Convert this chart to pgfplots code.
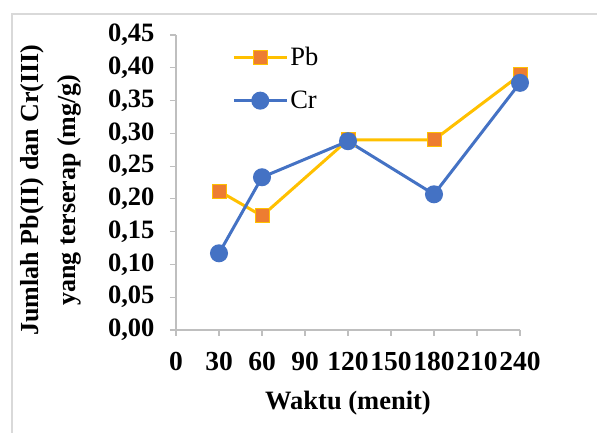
\documentclass[border=0pt]{standalone}
\usepackage{pgfplots}
\pgfplotsset{compat=1.18}
\usepackage{fontspec}
\setmainfont{Liberation Serif}
\definecolor{pbline}{HTML}{FFC000}
\definecolor{pbfill}{HTML}{ED7D31}
\definecolor{crline}{HTML}{4472C4}
\definecolor{axgray}{HTML}{BFBFBF}
\definecolor{bordergray}{HTML}{D9D9D9}
\begin{document}
\begin{tikzpicture}[x=1pt,y=1pt]
\path[use as bounding box] (0,0) rectangle (597,433);
\draw[bordergray, line width=1.5pt] (12,0) -- (12,419) -- (597,419);
\begin{axis}[
  at={(176pt,103pt)}, anchor=south west,
  scale only axis, width=344pt, height=295pt,
  xmin=0, xmax=240, ymin=0, ymax=0.45,
  axis lines=left,
  axis line style={axgray, line width=1.2pt, -},
  every tick/.style={axgray, line width=1.2pt},
  tick align=outside, major tick length=6pt,
  xtick={0,30,60,90,120,150,180,210,240},
  xticklabels={0,30,60,90,120,150,180,210,240},
  ytick={0,0.05,0.1,0.15,0.2,0.25,0.3,0.35,0.4,0.45},
  yticklabels={{0,00},{0,05},{0,10},{0,15},{0,20},{0,25},{0,30},{0,35},{0,40},{0,45}},
  yticklabel style={font=\fontsize{26.5}{30}\selectfont\bfseries, text=black, xshift=-12pt},
  xticklabel style={font=\fontsize{27.5}{30}\selectfont\bfseries, text=black, yshift=-13pt},
  clip=false,
  legend style={at={(0.163,0.966)}, anchor=north west, draw=none, fill=none,
    font=\fontsize{26.5}{30}\selectfont, row sep=20pt, inner sep=0pt,
    cells={anchor=west}},
  legend image code/.code={
    \draw[mark repeat=2,mark phase=2,#1] plot coordinates {(0pt,0pt) (26.5pt,0pt) (53pt,0pt)};
  },
]
\addplot[pbline, line width=3pt, mark=square*, mark size=7pt,
  mark options={fill=pbfill, draw=pbline, line width=1pt}]
  coordinates {(30,0.212) (60,0.174) (120,0.290) (180,0.290) (240,0.389)};
\addlegendentry{Pb}
\addplot[crline, line width=3pt, mark=*, mark size=7.5pt,
  mark options={fill=crline, draw=crline}]
  coordinates {(30,0.117) (60,0.233) (120,0.288) (180,0.207) (240,0.377)};
\addlegendentry{Cr}
\end{axis}
\node[font=\fontsize{26.5}{30}\selectfont\bfseries] at (348,30) {Waktu (menit)};
\node[rotate=90, align=center, font=\fontsize{26}{37}\selectfont\bfseries] at (51,243) {Jumlah Pb(II) dan Cr(III)\\yang terserap (mg/g)};
\end{tikzpicture}
\end{document}
